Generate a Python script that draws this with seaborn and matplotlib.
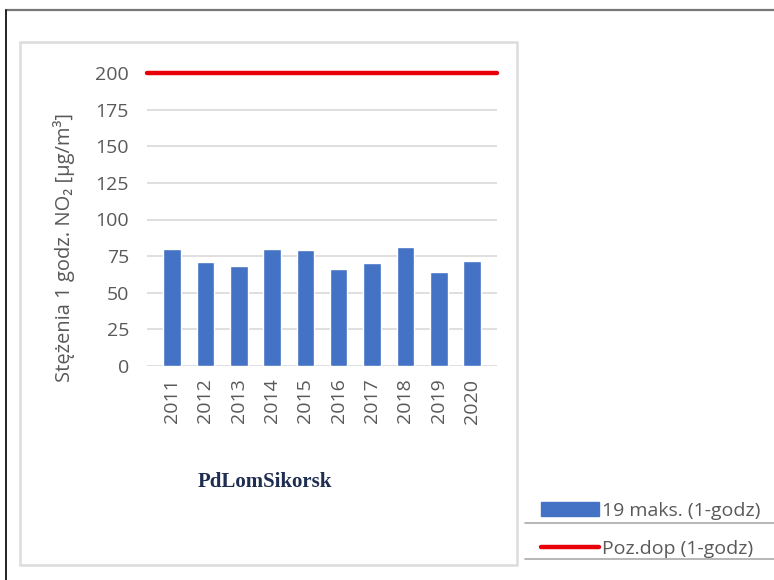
import matplotlib
matplotlib.use('Agg')
import matplotlib.pyplot as plt
import seaborn as sns
import pandas as pd
from matplotlib.patches import Patch, Rectangle
from matplotlib.lines import Line2D

# data
years = ['2011', '2012', '2013', '2014', '2015', '2016', '2017', '2018', '2019', '2020']
max19 = [80, 71, 68, 80, 79, 66, 70, 81, 64, 72]
limit = 200
yticks = [0, 25, 50, 75, 100, 125, 150, 175, 200]
station = 'PdLomSikorsk'
label_bars = '19 maks. (1-godz)'
label_limit = 'Poz.dop (1-godz)'

sns.set_style('white')
plt.rcParams['font.family'] = ['Open Sans', 'DejaVu Sans']

blue = '#4472C4'
red = '#E8000B'
grey_txt = '#595959'
grid_c = '#D9D9D9'

df = pd.DataFrame({'year': years, 'value': max19})

fig = plt.figure(figsize=(7.74, 5.8), dpi=100)
ax = fig.add_axes([147 / 774, 1 - 366 / 580, 350 / 774, (366 - 73) / 580])

sns.barplot(data=df, x='year', y='value', color=blue, width=0.53, saturation=1, ax=ax, zorder=3)
ax.axhline(limit, color=red, lw=3.2, zorder=4, clip_on=False)

ax.set_ylim(0, 200)
ax.set_xlim(-0.75, 9.75)
ax.set_yticks(yticks)
ax.yaxis.grid(True, color=grid_c, lw=1.2, zorder=0)
ax.set_axisbelow(True)
for s in ax.spines.values():
    s.set_visible(False)
ax.tick_params(axis='y', length=0, pad=13, labelsize=14, labelcolor=grey_txt)
ax.tick_params(axis='x', length=0, pad=9, labelsize=14, labelcolor=grey_txt, rotation=90)
ax.set_xlabel('')
ax.set_ylabel('')

fig.text(64 / 774, 1 - 247 / 580, 'Stężenia 1 godz. NO₂ [µg/m³]', rotation=90,
         ha='center', va='center', fontsize=14.5, color=grey_txt)

fig.text(265 / 774, 1 - 482 / 580, station, ha='center', va='center',
         family='Liberation Serif', fontsize=15, weight='bold', color='#1F2D50')

# inner chart box and outer frame
fig.add_artist(Rectangle((20 / 774, 1 - 565 / 580), (517 - 20) / 774, (565 - 42) / 580,
                         transform=fig.transFigure, fill=False, ec='#DCDCDC', lw=1.8))
fig.add_artist(Line2D([6 / 774, 1], [1 - 10 / 580, 1 - 10 / 580], transform=fig.transFigure,
                      color='#777777', lw=1.6))
fig.add_artist(Line2D([6 / 774, 6 / 774], [0, 1 - 10 / 580], transform=fig.transFigure,
                      color='#222222', lw=1.4))

# legend outside the box
handles = [Patch(facecolor=blue, edgecolor=blue), Line2D([0], [0], color=red, lw=3.2)]
fig.legend(handles, [label_bars, label_limit], loc='upper left',
           bbox_to_anchor=(541 / 774, 1 - 502 / 580), frameon=False, fontsize=14,
           labelcolor=grey_txt, handlelength=3.0, handleheight=0.75, handletextpad=0.15,
           labelspacing=1.05, borderpad=0, borderaxespad=0)
for yy in (523, 559):
    fig.add_artist(Line2D([525 / 774, 1], [1 - yy / 580, 1 - yy / 580], transform=fig.transFigure,
                          color='#AAAAAA', lw=1.2))

fig.savefig('out.png', dpi=100)
